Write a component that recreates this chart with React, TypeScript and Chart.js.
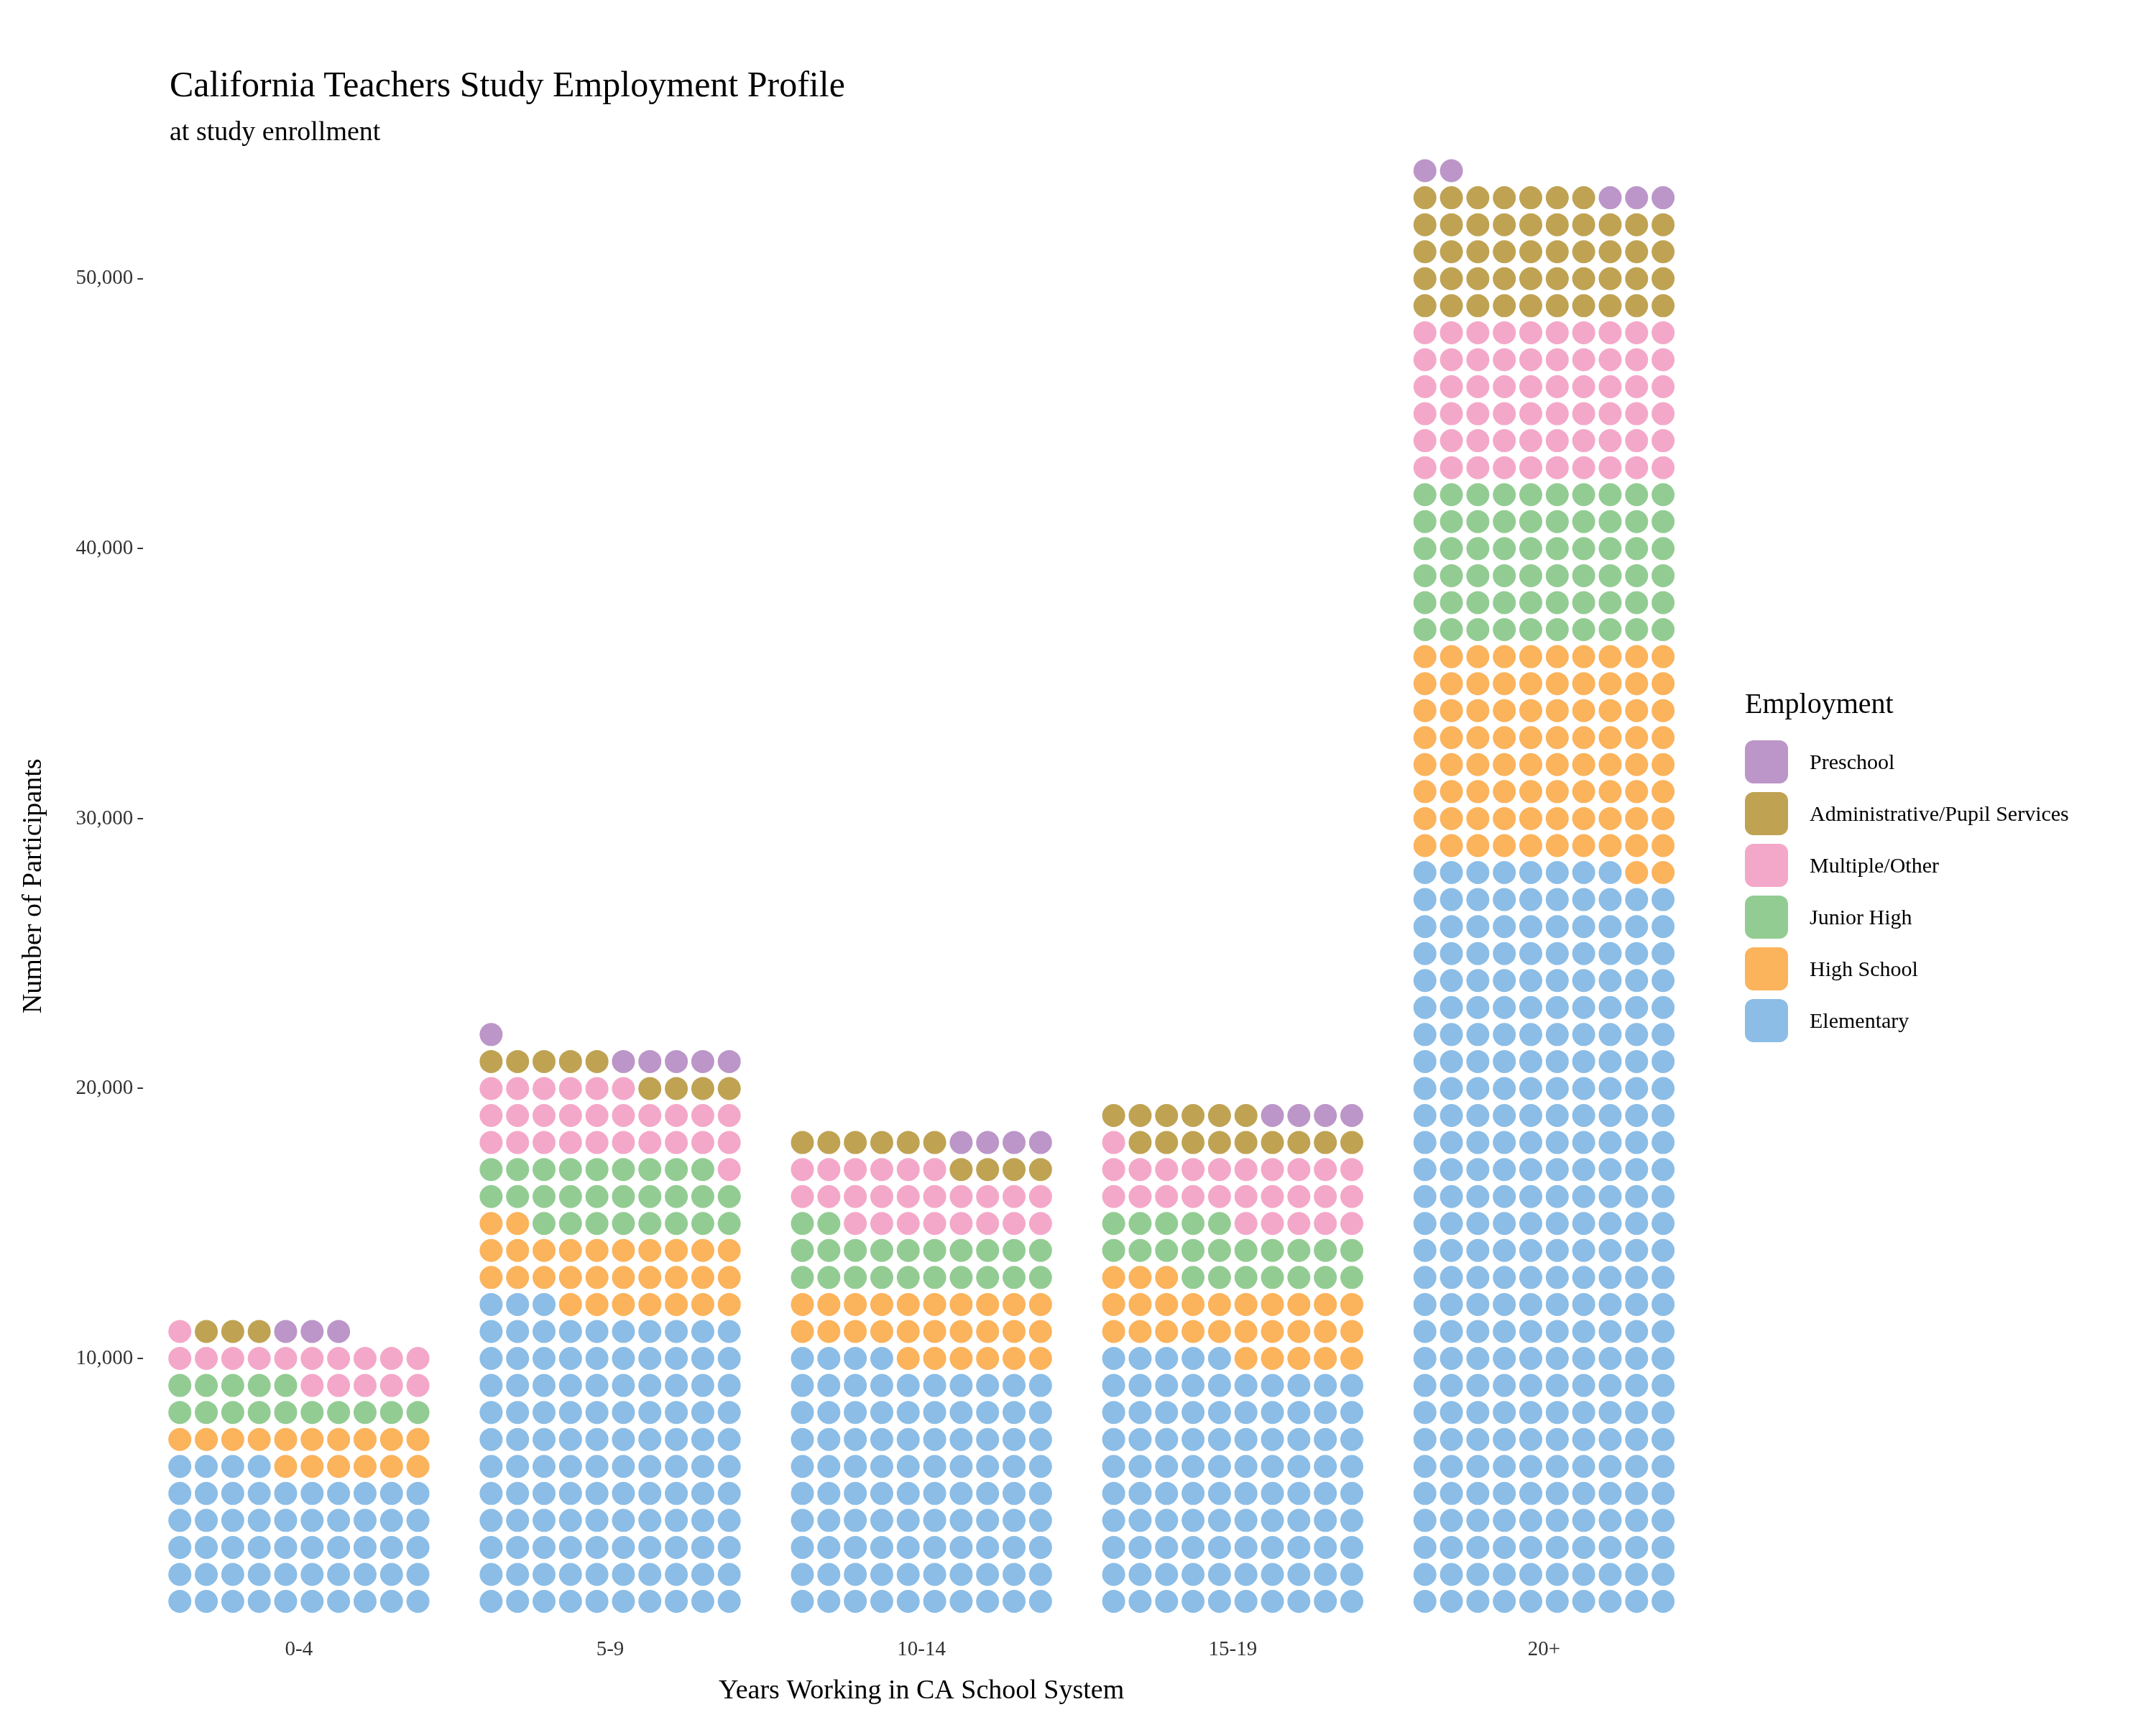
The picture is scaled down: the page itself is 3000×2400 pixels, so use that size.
import React, { useRef, useEffect } from "react";
import { Chart, registerables } from "chart.js";

Chart.register(...registerables);

const groups = ["0-4", "5-9", "10-14", "15-19", "20+"];
// each dot = 1000 participants, counts per group
const elementary = [54, 113, 94, 95, 278];
const highSchool = [16, 29, 26, 28, 82];
const juniorHigh = [15, 27, 22, 22, 60];
const multipleOther = [16, 27, 24, 26, 60];
const adminPupil = [3, 9, 10, 15, 47];
const preschool = [3, 6, 4, 4, 5];
const yTicks = [10000, 20000, 30000, 40000, 50000];

const stackOrder = [
  { label: "Elementary", data: elementary, color: "#8BBDE6" },
  { label: "High School", data: highSchool, color: "#FBB35C" },
  { label: "Junior High", data: juniorHigh, color: "#93CC93" },
  { label: "Multiple/Other", data: multipleOther, color: "#F4A8C9" },
  { label: "Administrative/Pupil Services", data: adminPupil, color: "#BFA353" },
  { label: "Preschool", data: preschool, color: "#BC96C8" },
];

const font = "'Liberation Serif', 'DejaVu Serif', serif";

const App: React.FC = () => {
  const chartRef = useRef<HTMLCanvasElement | null>(null);

  useEffect(() => {
    if (!chartRef.current) return;
    const ctx = chartRef.current.getContext("2d");
    if (!ctx) return;

    // waffle layout: fill each group row by row, 10 dots per row
    const datasets = stackOrder.map((s) => ({
      label: s.label,
      data: [] as { x: number; y: number }[],
      backgroundColor: s.color,
      borderWidth: 0,
      pointRadius: 16,
      pointHoverRadius: 16,
    }));
    groups.forEach((_, g) => {
      let i = 0;
      stackOrder.forEach((s, k) => {
        for (let n = 0; n < s.data[g]; n++, i++) {
          const col = i % 10;
          const row = Math.floor(i / 10);
          datasets[k].data.push({ x: g + (col - 4.5) * 0.085, y: (row + 1) * 1000 });
        }
      });
    });

    const chart = new Chart(ctx, {
      type: "scatter",
      data: { datasets },
      options: {
        animation: false,
        responsive: false,
        layout: { padding: { top: 200, right: 635, left: 20, bottom: 20 } },
        plugins: { legend: { display: false }, tooltip: { enabled: false } },
        scales: {
          x: {
            type: "linear",
            min: -0.5,
            max: 4.5,
            afterBuildTicks: (axis) => {
              axis.ticks = groups.map((_, i) => ({ value: i }));
            },
            ticks: {
              callback: (v) => groups[Number(v)] ?? "",
              color: "#333",
              font: { family: font, size: 29 },
              padding: 4,
            },
            grid: { display: false },
            border: { display: false },
            title: {
              display: true,
              text: "Years Working in CA School System",
              color: "#000",
              font: { family: font, size: 38 },
              padding: { top: 14 },
            },
          },
          y: {
            min: 0,
            max: 55000,
            afterBuildTicks: (axis) => {
              axis.ticks = yTicks.map((v) => ({ value: v }));
            },
            ticks: {
              color: "#333",
              font: { family: font, size: 29 },
              padding: 6,
            },
            grid: { drawOnChartArea: false, drawTicks: true, tickLength: 8, color: "#333", lineWidth: 2 },
            border: { display: false },
            title: {
              display: true,
              text: "Number of Participants",
              color: "#000",
              font: { family: font, size: 38 },
              padding: { bottom: 30 },
            },
          },
        },
      },
    });

    return () => {
      chart.destroy();
    };
  }, []);

  const legendItems = [...stackOrder].reverse();

  return (
    <div style={{ position: "relative", width: 3000, height: 2400, background: "#fff", fontFamily: font, margin: -8 }}>
      <canvas ref={chartRef} width={3000} height={2400} style={{ position: "absolute", left: 0, top: 0 }} />
      <div style={{ position: "absolute", left: 236, top: 88, fontSize: 50, color: "#000" }}>
        California Teachers Study Employment Profile
      </div>
      <div style={{ position: "absolute", left: 236, top: 160, fontSize: 38, color: "#000" }}>
        at study enrollment
      </div>
      <div style={{ position: "absolute", left: 2428, top: 955 }}>
        <div style={{ fontSize: 40, marginBottom: 22 }}>Employment</div>
        {legendItems.map((s) => (
          <div key={s.label} style={{ display: "flex", alignItems: "center", height: 72 }}>
            <span style={{ width: 60, height: 60, borderRadius: 12, background: s.color, display: "inline-block", marginRight: 30 }} />
            <span style={{ fontSize: 30 }}>{s.label}</span>
          </div>
        ))}
      </div>
    </div>
  );
};

export default App;
